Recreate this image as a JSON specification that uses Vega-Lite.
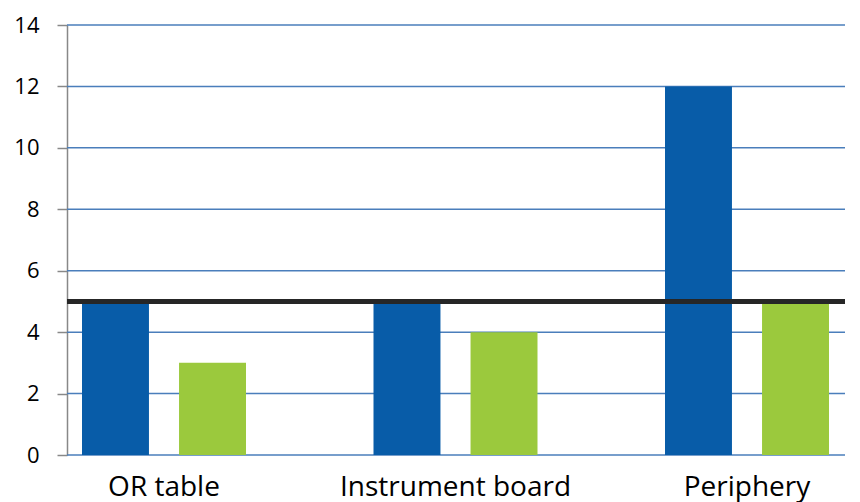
{
  "$schema": "https://vega.github.io/schema/vega-lite/v6.json",
  "width": 778,
  "height": 430,
  "autosize": {"type": "none"},
  "padding": {"left": 67, "top": 25, "right": 15, "bottom": 47},
  "background": "white",
  "config": {
    "view": {"stroke": null},
    "font": "Open Sans"
  },
  "datasets": {
    "bars": [
      {"location": "OR table", "series": "A", "value": 5},
      {"location": "OR table", "series": "B", "value": 3},
      {"location": "Instrument board", "series": "A", "value": 5},
      {"location": "Instrument board", "series": "B", "value": 4},
      {"location": "Periphery", "series": "A", "value": 12},
      {"location": "Periphery", "series": "B", "value": 5}
    ],
    "grid": [{"tick": 0}, {"tick": 2}, {"tick": 4}, {"tick": 6}, {"tick": 8}, {"tick": 10}, {"tick": 12}, {"tick": 14}],
    "threshold": [{"level": 5}]
  },
  "resolve": {"scale": {"x": "independent"}},
  "layer": [
    {
      "data": {"name": "grid"},
      "mark": {"type": "rule", "color": "#4A7EBB", "strokeWidth": 1.5},
      "encoding": {
        "y": {"field": "tick", "type": "quantitative", "scale": {"domain": [0, 14], "nice": false}}
      }
    },
    {
      "data": {"name": "bars"},
      "mark": {"type": "bar"},
      "encoding": {
        "x": {
          "field": "location",
          "type": "nominal",
          "sort": ["OR table", "Instrument board", "Periphery"],
          "scale": {"paddingInner": 0, "paddingOuter": 0, "range": [-48.75, 825.75]},
          "axis": {
            "title": null,
            "labelAngle": 0,
            "domain": false,
            "ticks": false,
            "labelFontSize": 28,
            "labelColor": "#000000",
            "labelPadding": 18,
            "labelLimit": 500,
            "labelFont": "Open Sans"
          }
        },
        "xOffset": {
          "field": "series",
          "type": "nominal",
          "scale": {"paddingInner": 0.31, "paddingOuter": 0.657}
        },
        "y": {
          "field": "value",
          "type": "quantitative",
          "scale": {"domain": [0, 14], "nice": false},
          "axis": {
            "title": null,
            "values": [0, 2, 4, 6, 8, 10, 12, 14],
            "grid": false,
            "domain": true,
            "domainColor": "#888888",
            "domainWidth": 1.5,
            "ticks": true,
            "tickColor": "#888888",
            "tickSize": 10,
            "tickWidth": 1.5,
            "labelFontSize": 22,
            "labelColor": "#000000",
            "labelPadding": 18,
            "labelFont": "Open Sans"
          }
        },
        "color": {
          "field": "series",
          "type": "nominal",
          "scale": {"domain": ["A", "B"], "range": ["#085CA8", "#9BC93D"]},
          "legend": null
        }
      }
    },
    {
      "data": {"name": "threshold"},
      "mark": {"type": "rule", "color": "#262626", "strokeWidth": 5},
      "encoding": {
        "y": {"field": "level", "type": "quantitative"}
      }
    }
  ]
}
